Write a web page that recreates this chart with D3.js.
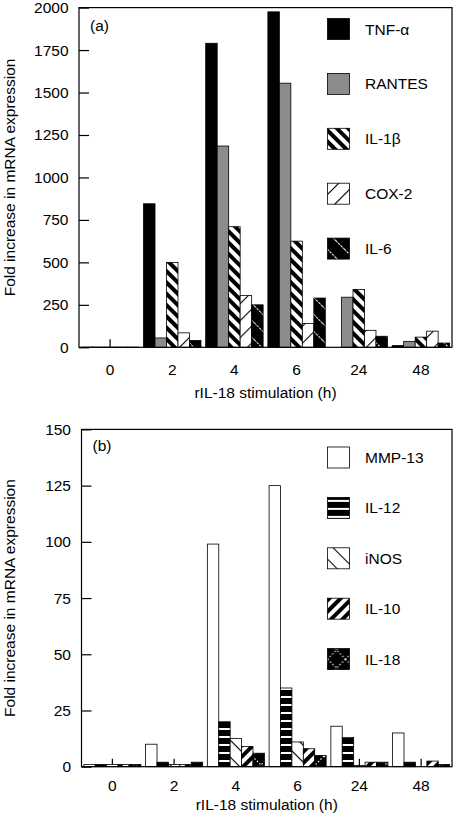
<!DOCTYPE html>
<html>
<head>
<meta charset="utf-8">
<script src="https://cdn.jsdelivr.net/npm/d3@7"></script>
<style>
  html, body { margin: 0; padding: 0; background: #fff; }
  svg { display: block; }
  text { font-family: "Liberation Sans", Arial, Helvetica, sans-serif; fill: #000; }
</style>
</head>
<body>
<svg id="chart" width="456" height="818"></svg>
<script>
// ---------- data ----------
const categories = ["0", "2", "4", "6", "24", "48"];
const xTitle = "rIL-18 stimulation (h)";
const yTitle = "Fold increase in mRNA expression";

// panel (a)
const seriesA = ["TNF-α", "RANTES", "IL-1β", "COX-2", "IL-6"];
const tnfA   = [1, 845, 1790, 1975, 0, 10];
const rantes = [1, 55, 1185, 1555, 295, 35];
const il1b   = [1, 500, 710, 625, 340, 60];
const cox2   = [1, 85, 305, 140, 100, 95];
const il6    = [1, 40, 250, 290, 65, 25];
const ticksA = [0, 250, 500, 750, 1000, 1250, 1500, 1750, 2000];

// panel (b)
const seriesB = ["MMP-13", "IL-12", "iNOS", "IL-10", "IL-18"];
const mmp13 = [1, 10, 99, 125, 18, 15];
const il12  = [1, 2, 20, 35, 13, 2];
const inos  = [1, 1, 12.5, 11, 0.5, 0];
const il10  = [1, 1, 9, 8, 2, 2.5];
const il18  = [1, 2, 6, 5, 2, 1];
const ticksB = [0, 25, 50, 75, 100, 125, 150];

// ---------- drawing ----------
const svg = d3.select("#chart");
const defs = svg.append("defs");

function stripePattern(id, size, angle, bg, fg, thick, dash) {
  const p = defs.append("pattern").attr("id", id)
    .attr("patternUnits", "userSpaceOnUse")
    .attr("width", size).attr("height", size)
    .attr("patternTransform", angle ? `rotate(${angle})` : null);
  p.append("rect").attr("width", size).attr("height", size).attr("fill", bg);
  if (dash) {
    p.append("line").attr("x1", 0).attr("x2", size).attr("y1", thick / 2).attr("y2", thick / 2)
      .attr("stroke", fg).attr("stroke-width", thick).attr("stroke-dasharray", dash);
  } else {
    p.append("rect").attr("width", size).attr("height", thick).attr("fill", fg);
  }
}
stripePattern("p-il1b", 8, 45, "#fff", "#000", 4);
stripePattern("p-il10", 8, -45, "#fff", "#000", 4);
stripePattern("p-cox2", 12, -45, "#fff", "#000", 1.1);
stripePattern("p-il6", 12, 45, "#000", "#fff", 1.1, "2.5,1");
stripePattern("p-inos", 12, 45, "#fff", "#000", 1.1);
stripePattern("p-il12", 8, 0, "#000", "#fff", 2);
(function () {
  const s = 18;
  const p = defs.append("pattern").attr("id", "p-il18")
    .attr("patternUnits", "userSpaceOnUse").attr("width", s).attr("height", s);
  p.append("rect").attr("width", s).attr("height", s).attr("fill", "#000");
  p.append("line").attr("x1", 0).attr("y1", 0).attr("x2", s).attr("y2", s)
    .attr("stroke", "#fff").attr("stroke-width", 1.1).attr("stroke-dasharray", "1.5,2");
  p.append("line").attr("x1", s).attr("y1", 0).attr("x2", 0).attr("y2", s)
    .attr("stroke", "#fff").attr("stroke-width", 1.1).attr("stroke-dasharray", "1.5,2");
})();

const FS = 15.5;

function drawPanel(cfg) {
  const g = svg.append("g");
  const x = d3.scaleBand().domain(categories).range([cfg.left, cfg.right])
    .paddingInner(0.076).paddingOuter(0.038);
  const xs = d3.scaleBand().domain(cfg.series).range([0, x.bandwidth()]);
  const y = d3.scaleLinear().domain([0, cfg.max]).range([cfg.bottom, cfg.top]);

  // y axis (inward ticks)
  const ya = g.append("g").attr("transform", `translate(${cfg.left},0)`)
    .call(d3.axisLeft(y).tickValues(cfg.ticks).tickFormat(d3.format("d"))
      .tickSizeInner(-10).tickSizeOuter(0).tickPadding(10.5));
  ya.select(".domain").remove();
  ya.selectAll("line").attr("stroke", "#000").attr("stroke-width", 1.2);
  ya.selectAll("text").attr("font-size", FS).attr("font-family", null);

  // x axis (inward ticks at category centres)
  const xa = g.append("g").attr("transform", `translate(0,${cfg.bottom})`)
    .call(d3.axisBottom(x).tickSizeInner(-8).tickSizeOuter(0).tickPadding(cfg.xPad));
  xa.select(".domain").remove();
  xa.selectAll("line").attr("stroke", "#000").attr("stroke-width", 1.2);
  xa.selectAll("text").attr("font-size", FS).attr("font-family", null);

  // bars
  const rows = [];
  categories.forEach((c, i) => {
    cfg.series.forEach((s, j) => {
      rows.push({ c, s, v: cfg.values[j][i], fill: cfg.fills[j] });
    });
  });
  g.append("g").selectAll("rect").data(rows).join("rect")
    .attr("x", d => x(d.c) + xs(d.s))
    .attr("y", d => y(d.v))
    .attr("width", xs.bandwidth())
    .attr("height", d => y(0) - y(d.v))
    .attr("fill", d => d.fill)
    .attr("stroke", "#000")
    .attr("stroke-width", 0.8);

  // frame
  g.append("rect").attr("x", cfg.left).attr("y", cfg.top)
    .attr("width", cfg.right - cfg.left).attr("height", cfg.bottom - cfg.top)
    .attr("fill", "none").attr("stroke", "#000").attr("stroke-width", 1.2);

  // panel label
  g.append("text").attr("x", cfg.left + 11).attr("y", cfg.labelY)
    .attr("font-size", FS).text(cfg.label);

  // legend
  const lg = g.append("g").selectAll("g").data(cfg.series).join("g")
    .attr("transform", (d, i) => `translate(327.5,${cfg.legendY + i * cfg.legendStep})`);
  lg.append("rect").attr("x", 0).attr("y", -10.5).attr("width", 22).attr("height", 21)
    .attr("fill", (d, i) => cfg.fills[i]).attr("stroke", "#000").attr("stroke-width", 0.8);
  lg.append("text").attr("x", 37.5).attr("y", 5.5).attr("font-size", FS).text(d => d);

  // axis titles
  g.append("text").attr("x", (cfg.left + cfg.right) / 2).attr("y", cfg.xTitleY)
    .attr("text-anchor", "middle").attr("font-size", FS).text(xTitle);
  g.append("text")
    .attr("transform", `translate(15,${(cfg.top + cfg.bottom) / 2}) rotate(-90)`)
    .attr("text-anchor", "middle").attr("font-size", FS).text(yTitle);
}

drawPanel({
  left: 79, right: 452, top: 7.6, bottom: 347.3, max: 2000,
  ticks: ticksA, series: seriesA,
  values: [tnfA, rantes, il1b, cox2, il6],
  fills: ["#000", "#8c8c8c", "url(#p-il1b)", "url(#p-cox2)", "url(#p-il6)"],
  xPad: 16.5, label: "(a)", labelY: 31,
  legendY: 29, legendStep: 54.9, xTitleY: 398
});

drawPanel({
  left: 81.5, right: 452, top: 429.4, bottom: 766.7, max: 150,
  ticks: ticksB, series: seriesB,
  values: [mmp13, il12, inos, il10, il18],
  fills: ["#fff", "url(#p-il12)", "url(#p-inos)", "url(#p-il10)", "url(#p-il18)"],
  xPad: 13, label: "(b)", labelY: 451,
  legendY: 457.5, legendStep: 50.4, xTitleY: 810
});
</script>
</body>
</html>
